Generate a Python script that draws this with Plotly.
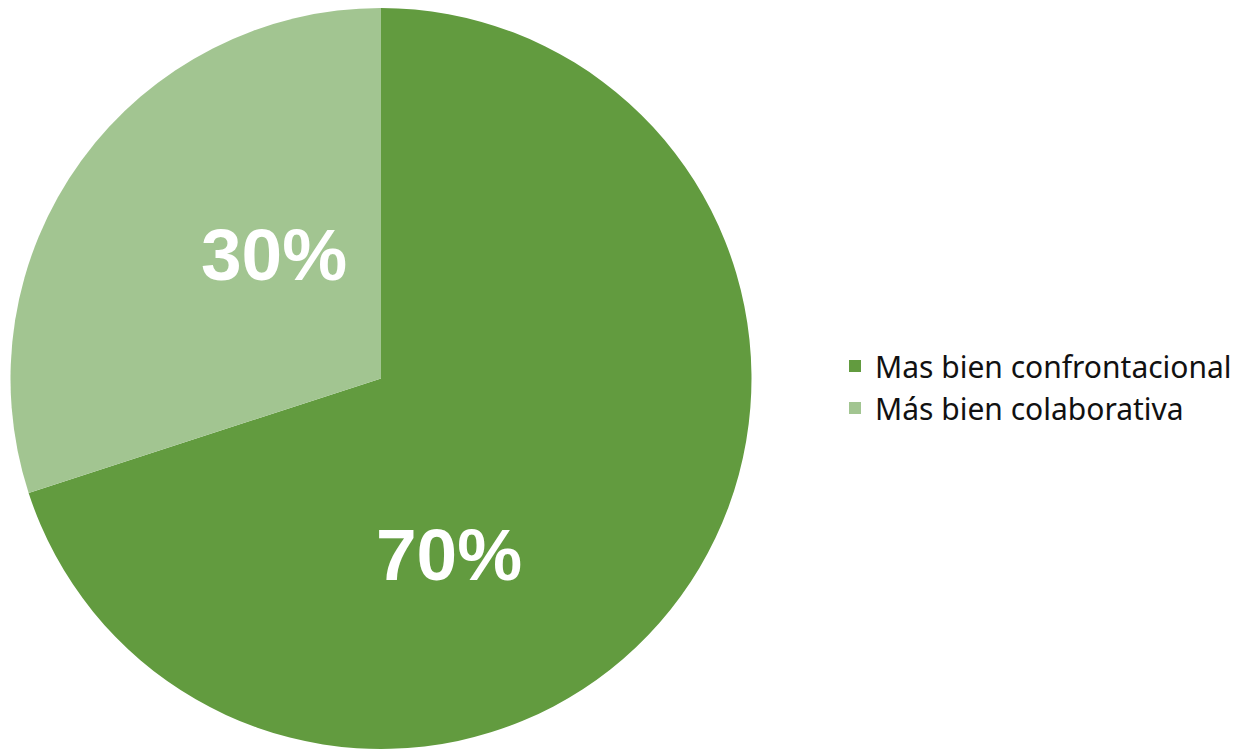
import math
import plotly.graph_objects as go

labels = ["Mas bien confrontacional", "Más bien colaborativa"]
values = [70, 30]
colours = ["#629B3F", "#A2C591"]
# where each percentage sits: fraction of the radius, and position across the slice (0..1)
label_radius = [0.512, 0.437]
label_pos = [0.63, 0.622]

W, H = 1248, 749
dom_x = [2 / W, 744 / W]
dom_y = [8 / H, 749 / H]

fig = go.Figure()
fig.add_trace(go.Pie(
    labels=labels,
    values=values,
    sort=False,
    direction="clockwise",
    rotation=0,
    marker=dict(colors=colours, line=dict(width=0)),
    textinfo="none",
    domain=dict(x=dom_x, y=dom_y),
    hoverinfo="label+percent",
))

# percentage labels, placed from the slice angles (pixels from the top-left)
cx, cy, r = 381, 378, 371
total = sum(values)
start = 0.0
for v, rf, pos in zip(values, label_radius, label_pos):
    ang = (start + v * pos) / total * 2 * math.pi
    px = cx + rf * r * math.sin(ang)
    py = cy - rf * r * math.cos(ang)
    fig.add_annotation(
        x=px / W, y=1 - py / H, xref="paper", yref="paper",
        text=f"{round(v / total * 100)}%", showarrow=False,
        xanchor="center", yanchor="middle",
        xshift=-9, yshift=9,  # compensate for the text box's descender space
        font=dict(family="Liberation Sans, Arial, sans-serif", size=73, color="white", weight="bold"),
    )
    start += v

fig.update_layout(
    width=W,
    height=H,
    margin=dict(l=0, r=0, t=0, b=0),
    paper_bgcolor="white",
    plot_bgcolor="white",
    showlegend=True,
    legend=dict(
        x=827 / W, y=1 - 379 / H,
        xanchor="left", yanchor="middle",
        font=dict(family="Noto Sans, sans-serif", size=30, color="#111111"),
    ),
)

fig.write_html("out.html")
